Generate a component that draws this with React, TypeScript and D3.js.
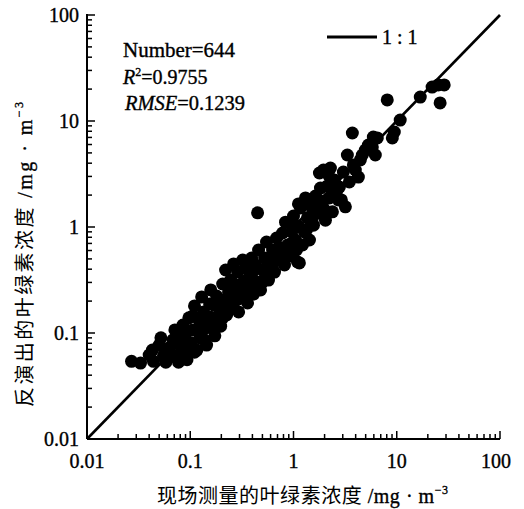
import React from 'react';
import * as d3 from 'd3';

// measured (in situ) chlorophyll, mg/m3
const measured = [
  0.027, 0.033, 0.043, 0.044, 0.05, 0.052, 0.055, 0.058, 0.062, 0.068,
  0.071, 0.074, 0.077, 0.081, 0.085, 0.089, 0.093, 0.093, 0.097, 0.101,
  0.106, 0.11, 0.116, 0.121, 0.124, 0.129, 0.135, 0.141, 0.144, 0.154,
  0.158, 0.165, 0.173, 0.18, 0.189, 0.197, 0.206, 0.215, 0.22, 0.225,
  0.235, 0.246, 0.257, 0.263, 0.275, 0.288, 0.294, 0.308, 0.322, 0.329,
  0.344, 0.359, 0.367, 0.384, 0.393, 0.411, 0.429, 0.449, 0.459, 0.449,
  0.48, 0.502, 0.525, 0.548, 0.573, 0.599, 0.627, 0.655, 0.685, 0.716,
  0.749, 0.783, 0.818, 0.837, 0.875, 0.915, 0.957, 1.0, 1.045, 1.093,
  1.117, 1.169, 1.222, 1.277, 1.306, 1.365, 1.428, 1.493, 1.56, 1.632,
  1.706, 1.783, 1.824, 1.906, 1.95, 2.038, 2.131, 2.228, 2.278, 2.382,
  2.49, 2.603, 2.782, 2.908, 3.041, 3.179, 3.324, 3.475, 3.715, 3.8,
  4.25, 4.44, 4.96, 5.31, 5.8, 5.93, 6.2, 6.48, 8.09, 9.06,
  9.47, 10.8, 16.9, 22.0, 25.2, 28.8, 26.3, 1.14,
  0.077, 0.106, 0.126, 0.148, 0.176, 0.206, 0.246, 0.294, 0.352, 0.402,
  0.502, 0.573, 0.67, 0.783, 0.935, 1.069, 1.336, 1.745, 1.995, 0.281,
  1.117, 1.4, 0.0905,
  0.04, 0.0648, 0.11, 0.138, 0.165, 0.189, 0.235, 0.281, 0.336, 0.429,
  0.536, 0.627, 0.855, 1.023, 1.527, 2.18, 2.72, 3.97, 4.64,
];

// retrieved chlorophyll, mg/m3
const retrieved = [
  0.054, 0.052, 0.069, 0.054, 0.077, 0.09, 0.061, 0.053, 0.072, 0.086,
  0.107, 0.061, 0.053, 0.075, 0.119, 0.094, 0.066, 0.056, 0.139, 0.081,
  0.107, 0.18, 0.069, 0.133, 0.09, 0.219, 0.158, 0.111, 0.077, 0.188,
  0.255, 0.139, 0.094, 0.223, 0.172, 0.116, 0.29, 0.205, 0.393, 0.148,
  0.244, 0.316, 0.184, 0.448, 0.255, 0.376, 0.158, 0.214, 0.488, 0.303,
  0.41, 0.192, 0.255, 0.352, 0.51, 0.233, 0.438, 0.303, 0.607, 1.36,
  0.255, 0.393, 0.51, 0.722, 0.316, 0.468, 0.607, 0.376, 0.787, 0.51,
  0.634, 0.878, 0.438, 1.11, 0.676, 0.532, 0.897, 1.27, 0.754, 0.468,
  1.02, 1.51, 0.676, 0.897, 1.88, 1.22, 0.754, 1.55, 1.04, 1.96,
  1.36, 3.23, 2.33, 1.68, 3.45, 1.16, 2.44, 1.88, 3.6, 1.39,
  2.77, 2.14, 2.38, 1.8, 3.3, 1.55, 4.78, 2.66, 7.71, 3.85,
  2.96, 4.29, 5.32, 5.94, 5.69, 7.06, 4.78, 6.92, 15.8, 6.92,
  7.87, 10.2, 16.8, 20.9, 21.9, 21.9, 14.8, 0.458,
  0.0958, 0.145, 0.107, 0.133, 0.184, 0.139, 0.205, 0.284, 0.316, 0.376,
  0.303, 0.468, 0.488, 0.607, 0.692, 0.607, 0.937, 1.8, 1.45, 0.205,
  1.65, 1.8, 0.107,
  0.062, 0.0607, 0.066, 0.0859, 0.111, 0.133, 0.165, 0.244, 0.244, 0.284,
  0.352, 0.438, 0.544, 0.979, 1.22, 3.1, 1.8, 3.45, 4.78,
];

const majorTicks = [0.01, 0.1, 1, 10, 100];
const majorLabels = ['0.01', '0.1', '1', '10', '100'];

const statLines = ['Number=644', 'R2=0.9755', 'RMSE=0.1239'];

const serif = '"Liberation Serif", "Times New Roman", serif';
const cjk = '"Noto Sans CJK SC", sans-serif';

export default function App() {
  const width = 524;
  const height = 509;
  const left = 87;
  const right = 500;
  const top = 15;
  const bottom = 439;

  const x = d3.scaleLog().domain([0.01, 100]).range([left, right]);
  const y = d3.scaleLog().domain([0.01, 100]).range([bottom, top]);

  const isMajor = (v: number) => Math.abs(Math.log10(v) - Math.round(Math.log10(v))) < 1e-6;
  const allTicks = x.ticks();

  const line = d3.line<number>().x((d) => x(d)).y((d) => y(d));

  // a little stroke makes the serif text look like the scanned original
  const ink = { stroke: '#000', strokeWidth: 0.35 };

  return (
    <div style={{ position: 'absolute', left: 0, top: 0 }}>
      <svg width={width} height={height} style={{ display: 'block', background: '#fff' }}>
        {/* points */}
        <g fill="#000">
          {measured.map((m, i) => (
            <circle key={i} cx={x(m)} cy={y(retrieved[i])} r={6.5} />
          ))}
        </g>

        {/* 1:1 line */}
        <path d={line([0.01, 100]) ?? ''} stroke="#000" strokeWidth={2.6} fill="none" />

        {/* axes */}
        <line x1={left} x2={left} y1={top - 1} y2={bottom} stroke="#000" strokeWidth={2} />
        <line x1={left} x2={right} y1={bottom} y2={bottom} stroke="#000" strokeWidth={2} />

        {allTicks.map((t, i) => (
          <g key={'t' + i}>
            <line x1={x(t)} x2={x(t)} y1={bottom} y2={bottom - (isMajor(t) ? 8 : 5)} stroke="#000" strokeWidth={1.5} />
            <line x1={left} x2={left + (isMajor(t) ? 8 : 5)} y1={y(t)} y2={y(t)} stroke="#000" strokeWidth={1.5} />
          </g>
        ))}

        {majorTicks.map((t, i) => (
          <g key={'l' + i} fontFamily={serif} fontSize={20} fill="#000" {...ink}>
            <text x={i === majorTicks.length - 1 ? x(t) - 4 : x(t)} y={468} textAnchor="middle">
              {majorLabels[i]}
            </text>
            <text x={79} y={y(t) + 7} textAnchor="end">
              {majorLabels[i]}
            </text>
          </g>
        ))}

        {/* statistics */}
        <g fontFamily={serif} fontSize={20} fill="#000" {...ink}>
          <text x={123} y={57} textLength={112} lengthAdjust="spacingAndGlyphs">{statLines[0]}</text>
          <text x={123} y={84}>
            <tspan fontStyle="italic">R</tspan>
            <tspan dy={-8} fontSize={12}>2</tspan>
            <tspan dy={8}>{statLines[1].slice(2)}</tspan>
          </text>
          <text x={125} y={110} textLength={120} lengthAdjust="spacingAndGlyphs">
            <tspan fontStyle="italic">RMSE</tspan>
            <tspan>{statLines[2].slice(4)}</tspan>
          </text>
        </g>

        {/* legend */}
        <line x1={327} x2={377} y1={37} y2={37} stroke="#000" strokeWidth={3} />
        <text x={382} y={44} fontFamily={serif} fontSize={20} {...ink}>1 : 1</text>

        {/* axis titles */}
        <text x={157} y={503} fontSize={20} textLength={291}>
          <tspan fontFamily={cjk}>现场测量的叶绿素浓度</tspan>
          <tspan fontFamily={serif} {...ink}> /mg · m</tspan>
          <tspan fontFamily={serif} fontSize={12} dy={-9} {...ink}>−3</tspan>
        </text>
        <text transform="translate(32,407) rotate(-90)" fontSize={20} textLength={305}>
          <tspan fontFamily={cjk}>反演出的叶绿素浓度</tspan>
          <tspan fontFamily={serif} {...ink}> /mg · m</tspan>
          <tspan fontFamily={serif} fontSize={12} dy={-9} {...ink}>−3</tspan>
        </text>
      </svg>
    </div>
  );
}
